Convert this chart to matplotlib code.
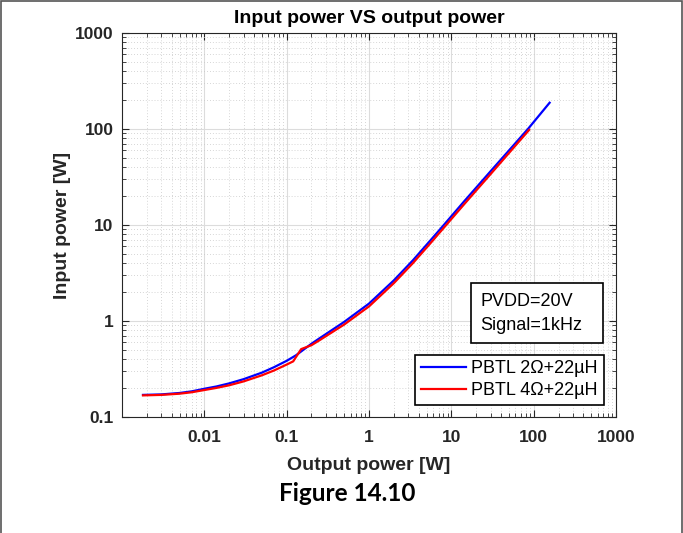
import matplotlib
matplotlib.use('Agg')
import matplotlib.pyplot as plt
from matplotlib.patches import Rectangle
from matplotlib.ticker import LogLocator, NullFormatter

# PBTL 2 ohm + 22uH
p_out_2ohm = [0.0018, 0.003, 0.005, 0.007, 0.01, 0.014, 0.02, 0.03, 0.05, 0.07,
              0.1, 0.13, 0.2, 0.25, 0.5, 1, 2, 3.42, 5.47, 7.6, 14.5, 30, 85, 156]
p_in_2ohm = [0.170, 0.172, 0.178, 0.185, 0.197, 0.208, 0.224, 0.248, 0.290, 0.330,
             0.385, 0.44, 0.58, 0.66, 0.98, 1.52, 2.65, 4.3, 6.8, 9.4, 17.9, 36.4, 100, 188]

# PBTL 4 ohm + 22uH
p_out_4ohm = [0.0018, 0.003, 0.005, 0.007, 0.01, 0.014, 0.02, 0.03, 0.05, 0.07,
              0.1, 0.12, 0.15, 0.2, 0.25, 0.5, 1, 2, 3.42, 5.47, 7.6, 14.5, 30, 88]
p_in_4ohm = [0.168, 0.170, 0.175, 0.181, 0.191, 0.201, 0.214, 0.235, 0.272, 0.305,
             0.352, 0.38, 0.51, 0.56, 0.63, 0.92, 1.42, 2.48, 4.02, 6.35, 8.8, 16.7, 34, 98]

x_ticks = [0.01, 0.1, 1, 10, 100, 1000]
x_tick_labels = ['0.01', '0.1', '1', '10', '100', '1000']
y_ticks = [0.1, 1, 10, 100, 1000]
y_tick_labels = ['0.1', '1', '10', '100', '1000']

plt.rcParams['font.family'] = ['Liberation Sans', 'DejaVu Sans']
dark = '#262626'

fig = plt.figure(figsize=(6.83, 5.33), dpi=100)
ax = fig.add_axes([0.1786, 0.2176, 0.7234, 0.7204])

ax.plot(p_out_2ohm, p_in_2ohm, color='#0000ff', lw=1.6, label='PBTL 2\u03a9+22\u00b5H')
ax.plot(p_out_4ohm, p_in_4ohm, color='#ff0000', lw=1.6, label='PBTL 4\u03a9+22\u00b5H')

ax.set_xscale('log')
ax.set_yscale('log')
ax.set_xlim(0.001, 1000)
ax.set_ylim(0.1, 1000)
ax.set_xticks(x_ticks)
ax.set_xticklabels(x_tick_labels)
ax.set_yticks(y_ticks)
ax.set_yticklabels(y_tick_labels)
ax.xaxis.set_minor_locator(LogLocator(base=10, subs=range(2, 10), numticks=20))
ax.yaxis.set_minor_locator(LogLocator(base=10, subs=range(2, 10), numticks=20))
ax.xaxis.set_minor_formatter(NullFormatter())
ax.yaxis.set_minor_formatter(NullFormatter())

ax.tick_params(which='both', direction='in', top=True, right=True, colors=dark)
ax.tick_params(which='major', length=5, labelsize=12.5)
ax.tick_params(axis='x', which='major', pad=9)
ax.tick_params(axis='y', which='major', pad=6)
ax.tick_params(which='minor', length=3)
for lbl in ax.get_xticklabels() + ax.get_yticklabels():
    lbl.set_fontweight('bold')
for sp in ax.spines.values():
    sp.set_color(dark)
    sp.set_linewidth(0.8)

ax.grid(which='major', color='#dcdcdc', lw=0.8, ls='-')
ax.grid(which='minor', color='#c8c8c8', lw=0.6, ls=(0, (1, 2.5)))
ax.set_axisbelow(True)

ax.set_title('Input power VS output power', fontsize=14, fontweight='bold', pad=7)
ax.set_xlabel('Output power [W]', fontsize=14, fontweight='bold', color=dark, labelpad=9)
ax.set_ylabel('Input power [W]', fontsize=14, fontweight='bold', color=dark, labelpad=3)

leg = ax.legend(loc='lower right', bbox_to_anchor=(0.975, 0.031), fontsize=13,
                frameon=True, fancybox=False, edgecolor='black', framealpha=1,
                handlelength=2.5, handletextpad=0.3, borderpad=0.32, labelspacing=0.28,
                borderaxespad=0)
leg.get_frame().set_linewidth(1.2)

# condition box
ax.add_patch(Rectangle((0.7065, 0.1927), 0.2672, 0.1563, transform=ax.transAxes,
                       fc='white', ec='black', lw=1.2, zorder=4))
ax.text(0.7247, 0.300, 'PVDD=20V', transform=ax.transAxes, ha='left', va='center',
        fontsize=13, zorder=5)
ax.text(0.7247, 0.2396, 'Signal=1kHz', transform=ax.transAxes, ha='left', va='center',
        fontsize=13, zorder=5)

fig.text(0.508, 0.075, 'Figure 14.10', ha='center', va='center',
         fontsize=17.5, fontweight='bold', family=['Lato', 'DejaVu Sans'])

fig.patches.append(Rectangle((0.001, -0.1), 0.997, 1.098, transform=fig.transFigure,
                             fill=False, ec='#555555', lw=1.2))

fig.savefig('out.png', dpi=100)
